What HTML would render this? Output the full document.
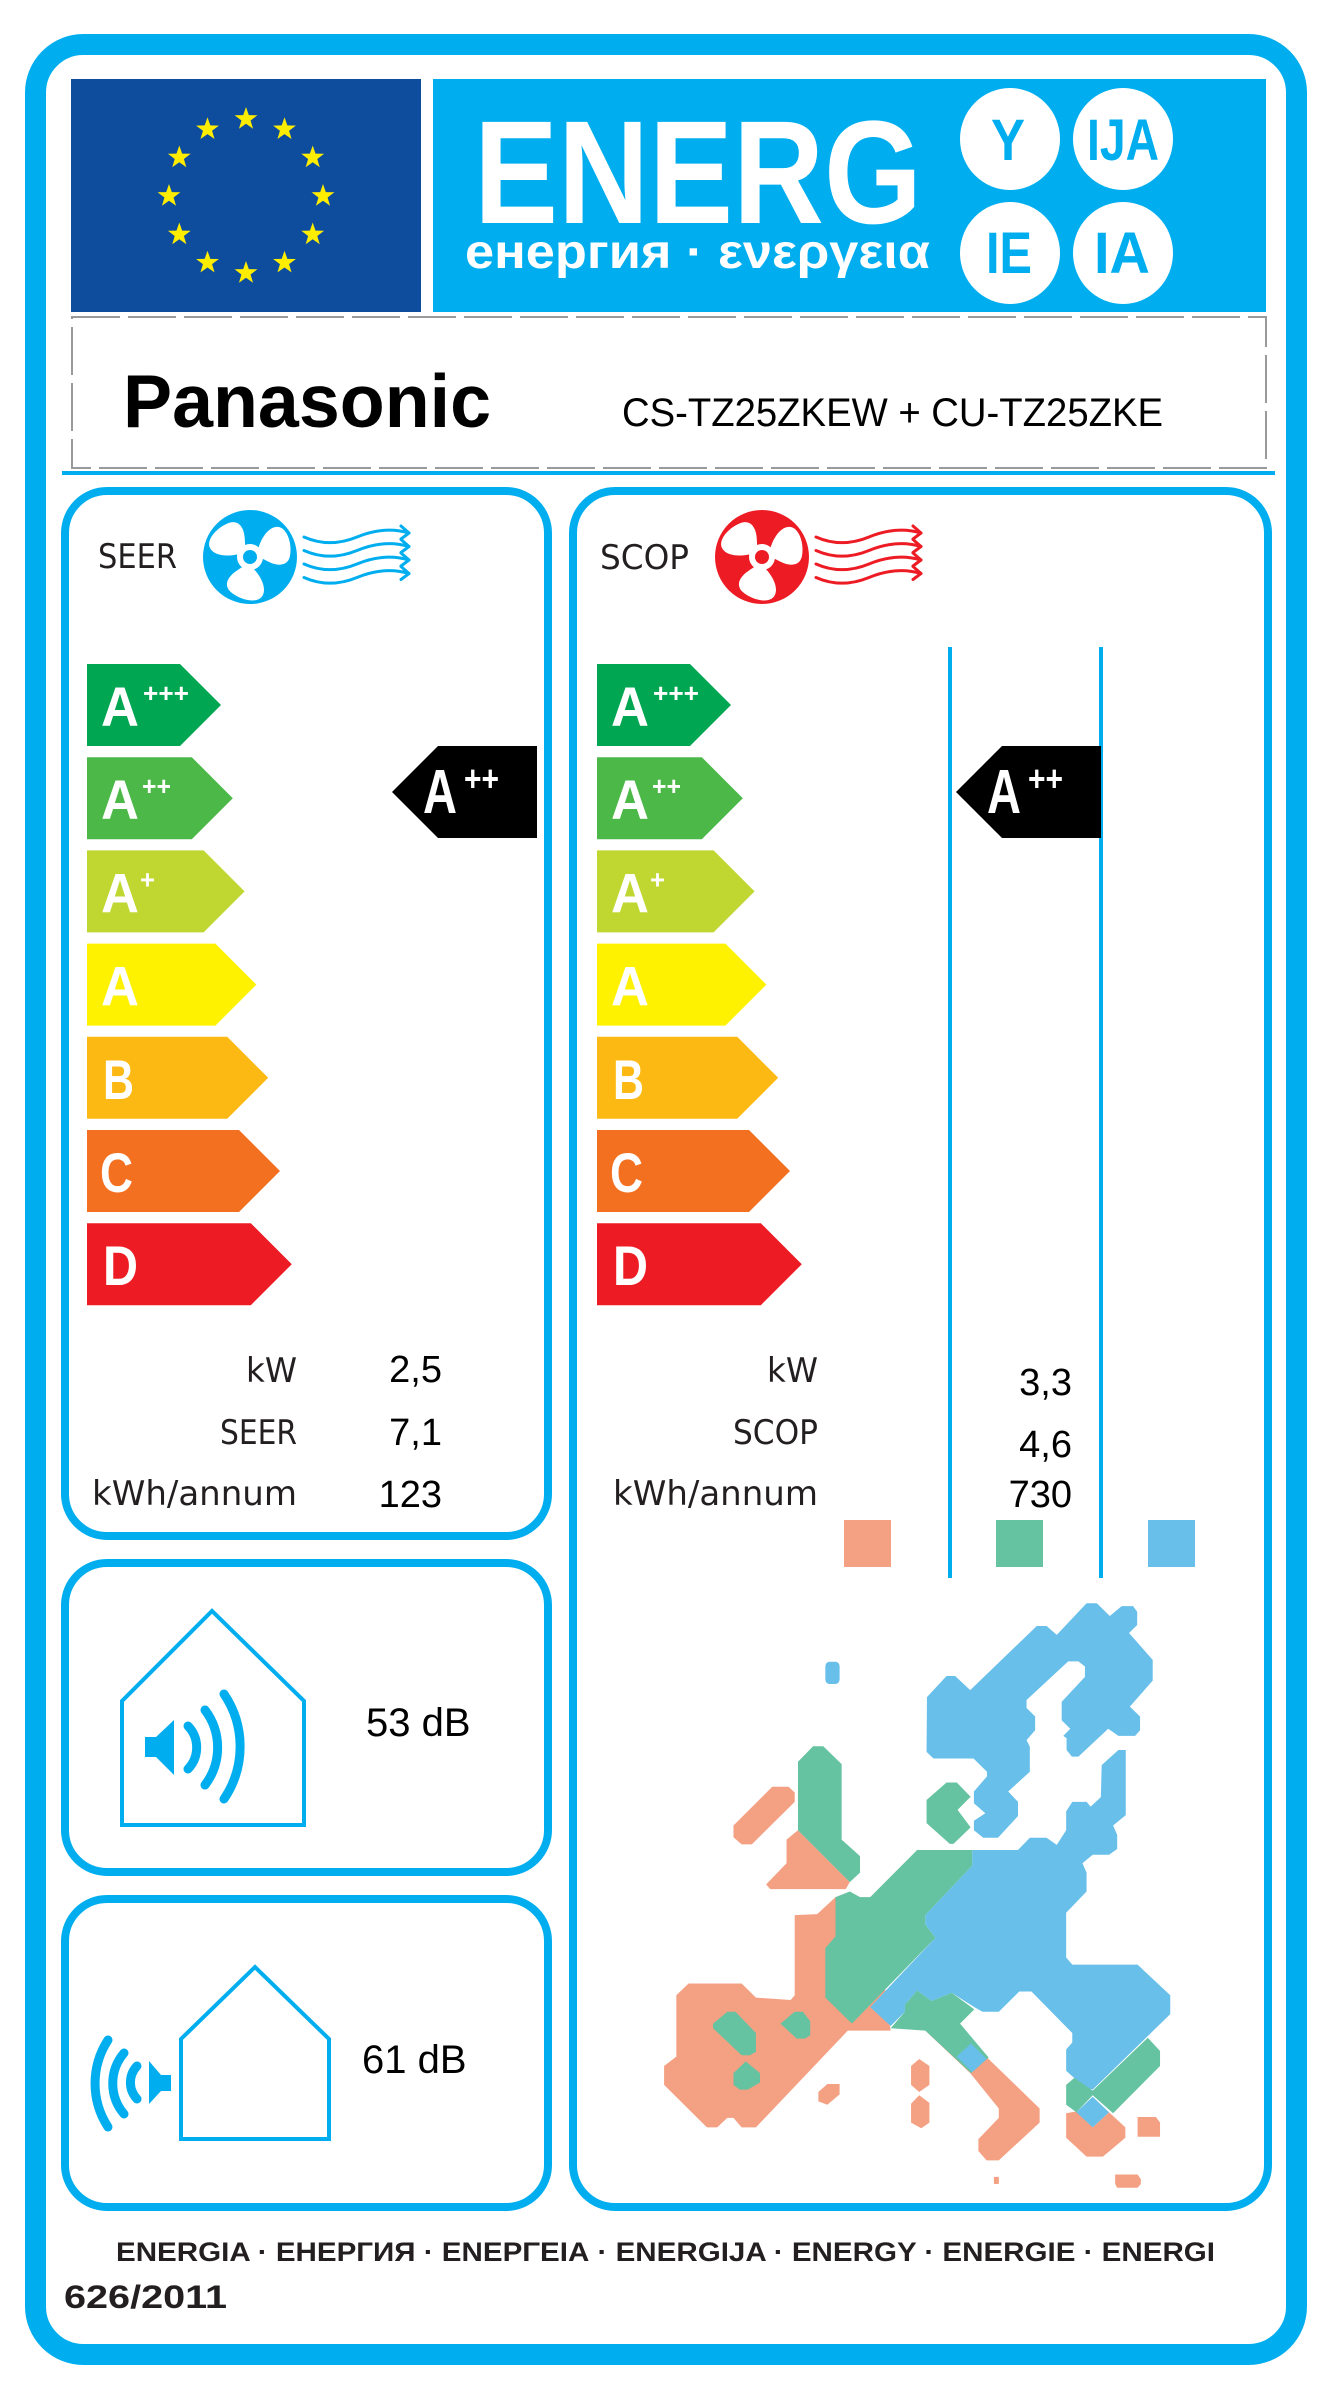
<!DOCTYPE html>
<html>
<head>
<meta charset="utf-8">
<style>
html,body{margin:0;padding:0;background:#fff;}
body{width:1344px;height:2405px;overflow:hidden;}
svg{display:block;}
text{font-family:"Liberation Sans","DejaVu Sans",sans-serif;}
.b{font-weight:bold;}
.lbl{font-family:"DejaVu Sans","Liberation Sans",sans-serif;fill:#231f20;}
</style>
</head>
<body>
<svg width="1344" height="2405" viewBox="0 0 1344 2405" xmlns="http://www.w3.org/2000/svg">
<rect x="0" y="0" width="1344" height="2405" fill="#fff"/>
<!-- outer border -->
<rect x="35.5" y="44.5" width="1261" height="2310" rx="48" ry="48" fill="none" stroke="#00aeef" stroke-width="21"/>

<!-- header -->
<rect x="71" y="79" width="350" height="233" fill="#0e4c9e"/>
<g fill="#ffed00">
<g transform="translate(246,119)"><polygon points="0,-12 2.82,-3.88 11.41,-3.71 4.57,1.48 7.05,9.71 0,4.8 -7.05,9.71 -4.57,1.48 -11.41,-3.71 -2.82,-3.88"/></g>
<g transform="translate(284.5,129.3)"><polygon points="0,-12 2.82,-3.88 11.41,-3.71 4.57,1.48 7.05,9.71 0,4.8 -7.05,9.71 -4.57,1.48 -11.41,-3.71 -2.82,-3.88"/></g>
<g transform="translate(312.7,157.5)"><polygon points="0,-12 2.82,-3.88 11.41,-3.71 4.57,1.48 7.05,9.71 0,4.8 -7.05,9.71 -4.57,1.48 -11.41,-3.71 -2.82,-3.88"/></g>
<g transform="translate(323,196)"><polygon points="0,-12 2.82,-3.88 11.41,-3.71 4.57,1.48 7.05,9.71 0,4.8 -7.05,9.71 -4.57,1.48 -11.41,-3.71 -2.82,-3.88"/></g>
<g transform="translate(312.7,234.5)"><polygon points="0,-12 2.82,-3.88 11.41,-3.71 4.57,1.48 7.05,9.71 0,4.8 -7.05,9.71 -4.57,1.48 -11.41,-3.71 -2.82,-3.88"/></g>
<g transform="translate(284.5,262.7)"><polygon points="0,-12 2.82,-3.88 11.41,-3.71 4.57,1.48 7.05,9.71 0,4.8 -7.05,9.71 -4.57,1.48 -11.41,-3.71 -2.82,-3.88"/></g>
<g transform="translate(246,273)"><polygon points="0,-12 2.82,-3.88 11.41,-3.71 4.57,1.48 7.05,9.71 0,4.8 -7.05,9.71 -4.57,1.48 -11.41,-3.71 -2.82,-3.88"/></g>
<g transform="translate(207.5,262.7)"><polygon points="0,-12 2.82,-3.88 11.41,-3.71 4.57,1.48 7.05,9.71 0,4.8 -7.05,9.71 -4.57,1.48 -11.41,-3.71 -2.82,-3.88"/></g>
<g transform="translate(179.3,234.5)"><polygon points="0,-12 2.82,-3.88 11.41,-3.71 4.57,1.48 7.05,9.71 0,4.8 -7.05,9.71 -4.57,1.48 -11.41,-3.71 -2.82,-3.88"/></g>
<g transform="translate(169,196)"><polygon points="0,-12 2.82,-3.88 11.41,-3.71 4.57,1.48 7.05,9.71 0,4.8 -7.05,9.71 -4.57,1.48 -11.41,-3.71 -2.82,-3.88"/></g>
<g transform="translate(179.3,157.5)"><polygon points="0,-12 2.82,-3.88 11.41,-3.71 4.57,1.48 7.05,9.71 0,4.8 -7.05,9.71 -4.57,1.48 -11.41,-3.71 -2.82,-3.88"/></g>
<g transform="translate(207.5,129.3)"><polygon points="0,-12 2.82,-3.88 11.41,-3.71 4.57,1.48 7.05,9.71 0,4.8 -7.05,9.71 -4.57,1.48 -11.41,-3.71 -2.82,-3.88"/></g>
</g>
<rect x="433" y="79" width="833" height="233" fill="#00aeef"/>
<text x="474" y="223" class="b" font-size="147" fill="#fff" textLength="448" lengthAdjust="spacingAndGlyphs">ENERG</text>
<text x="465" y="268" class="b" font-size="48" fill="#fff" textLength="465" lengthAdjust="spacingAndGlyphs">енергия · ενεργεια</text>
<ellipse cx="1010" cy="139" rx="50" ry="51" fill="#fff"/>
<ellipse cx="1123" cy="139" rx="50" ry="51" fill="#fff"/>
<ellipse cx="1010" cy="253" rx="50" ry="51" fill="#fff"/>
<ellipse cx="1123" cy="253" rx="50" ry="51" fill="#fff"/>
<g class="b" font-size="58" fill="#00aeef">
<text x="991" y="160" class="b" textLength="34" lengthAdjust="spacingAndGlyphs">Y</text>
<text x="1087" y="160" class="b" textLength="72" lengthAdjust="spacingAndGlyphs">IJA</text>
<text x="986" y="273" class="b" textLength="46" lengthAdjust="spacingAndGlyphs">IE</text>
<text x="1094" y="273" class="b" textLength="56" lengthAdjust="spacingAndGlyphs">IA</text>
</g>

<!-- supplier box -->
<rect x="72" y="317" width="1194" height="151" fill="none" stroke="#9a9a9a" stroke-width="2" stroke-dasharray="48 8"/>
<text x="123" y="427" class="b" font-size="75" fill="#000" textLength="368" lengthAdjust="spacingAndGlyphs">Panasonic</text>
<text x="622" y="426" font-size="40" fill="#000" textLength="541" lengthAdjust="spacingAndGlyphs">CS-TZ25ZKEW + CU-TZ25ZKE</text>
<rect x="62" y="471" width="1213" height="4" fill="#00aeef"/>

<!-- panels -->
<g fill="none" stroke="#00aeef" stroke-width="8">
<rect x="65" y="491" width="483" height="1045" rx="42" ry="42"/>
<rect x="65" y="1563" width="483" height="309" rx="42" ry="42"/>
<rect x="65" y="1899" width="483" height="308" rx="42" ry="42"/>
<rect x="573" y="491" width="695" height="1716" rx="42" ry="42"/>
</g>

<!-- SEER header -->
<text x="98" y="568" class="lbl" font-size="34" textLength="79" lengthAdjust="spacingAndGlyphs">SEER</text>
<g>
<g transform="translate(250,557)">
<circle r="47" fill="#00aeef"/>
<circle r="13" fill="#fff"/>
<path d="M -3,-9 C -12,-14 -24,-26 -20,-36 C -16,-45 2,-44 12,-38 C 20,-33 18,-24 10,-16 C 6,-12 4,-10 3,-9 Z" fill="#fff" transform="rotate(-48)"/>
<path d="M -3,-9 C -12,-14 -24,-26 -20,-36 C -16,-45 2,-44 12,-38 C 20,-33 18,-24 10,-16 C 6,-12 4,-10 3,-9 Z" fill="#fff" transform="rotate(72)"/>
<path d="M -3,-9 C -12,-14 -24,-26 -20,-36 C -16,-45 2,-44 12,-38 C 20,-33 18,-24 10,-16 C 6,-12 4,-10 3,-9 Z" fill="#fff" transform="rotate(192)"/>
<circle r="7" fill="#00aeef"/>
</g>
<g fill="none" stroke="#00aeef" stroke-width="3" stroke-linecap="round" stroke-linejoin="round">
<path d="M304,537 C322,545 340,544 357,537 S392,528 409,533"/>
<path d="M401,526 L409,533 L401,539"/>
<path d="M304,550.5 C322,558.5 340,557.5 357,550.5 S392,541.5 409,546.5"/>
<path d="M401,539.5 L409,546.5 L401,552.5"/>
<path d="M304,564 C322,572 340,571 357,564 S392,555 409,560"/>
<path d="M401,553 L409,560 L401,566"/>
<path d="M304,577.5 C322,585.5 340,584.5 357,577.5 S392,568.5 409,573.5"/>
<path d="M401,566.5 L409,573.5 L401,579.5"/>
</g>
</g>

<!-- SCOP header -->
<text x="600" y="569" class="lbl" font-size="34" textLength="89" lengthAdjust="spacingAndGlyphs">SCOP</text>
<g transform="translate(512,0)">
<g transform="translate(250,557)">
<circle r="47" fill="#ed1c24"/>
<circle r="13" fill="#fff"/>
<path d="M -3,-9 C -12,-14 -24,-26 -20,-36 C -16,-45 2,-44 12,-38 C 20,-33 18,-24 10,-16 C 6,-12 4,-10 3,-9 Z" fill="#fff" transform="rotate(-48)"/>
<path d="M -3,-9 C -12,-14 -24,-26 -20,-36 C -16,-45 2,-44 12,-38 C 20,-33 18,-24 10,-16 C 6,-12 4,-10 3,-9 Z" fill="#fff" transform="rotate(72)"/>
<path d="M -3,-9 C -12,-14 -24,-26 -20,-36 C -16,-45 2,-44 12,-38 C 20,-33 18,-24 10,-16 C 6,-12 4,-10 3,-9 Z" fill="#fff" transform="rotate(192)"/>
<circle r="7" fill="#ed1c24"/>
</g>
<g fill="none" stroke="#ed1c24" stroke-width="3" stroke-linecap="round" stroke-linejoin="round">
<path d="M304,537 C322,545 340,544 357,537 S392,528 409,533"/>
<path d="M401,526 L409,533 L401,539"/>
<path d="M304,550.5 C322,558.5 340,557.5 357,550.5 S392,541.5 409,546.5"/>
<path d="M401,539.5 L409,546.5 L401,552.5"/>
<path d="M304,564 C322,572 340,571 357,564 S392,555 409,560"/>
<path d="M401,553 L409,560 L401,566"/>
<path d="M304,577.5 C322,585.5 340,584.5 357,577.5 S392,568.5 409,573.5"/>
<path d="M401,566.5 L409,573.5 L401,579.5"/>
</g>
</g>

<!-- vertical lines right panel -->
<rect x="948" y="647" width="4" height="931" fill="#00aeef"/>
<rect x="1099" y="647" width="4" height="931" fill="#00aeef"/>

<!-- energy bars left -->
<g>
<polygon points="87,664 180,664 221,705 180,746 87,746" fill="#00a651"/>
<polygon points="87,757.2 191.8,757.2 232.8,798.2 191.8,839.2 87,839.2" fill="#4cb848"/>
<polygon points="87,850.4 203.6,850.4 244.6,891.4 203.6,932.4 87,932.4" fill="#bfd730"/>
<polygon points="87,943.6 215.4,943.6 256.4,984.6 215.4,1025.6 87,1025.6" fill="#fff200"/>
<polygon points="87,1036.8 227.2,1036.8 268.2,1077.8 227.2,1118.8 87,1118.8" fill="#fdb913"/>
<polygon points="87,1130 239,1130 280,1171 239,1212 87,1212" fill="#f37021"/>
<polygon points="87,1223.2 250.8,1223.2 291.8,1264.2 250.8,1305.2 87,1305.2" fill="#ed1c24"/>
</g>
<g fill="#fff" font-size="56" class="b">
<text x="101" y="726" class="b" textLength="38" lengthAdjust="spacingAndGlyphs">A</text>
<text x="101" y="819.2" class="b" textLength="38" lengthAdjust="spacingAndGlyphs">A</text>
<text x="101" y="912.4" class="b" textLength="38" lengthAdjust="spacingAndGlyphs">A</text>
<text x="101" y="1005.6" class="b" textLength="38" lengthAdjust="spacingAndGlyphs">A</text>
<text x="103" y="1098.8" class="b" textLength="31" lengthAdjust="spacingAndGlyphs">B</text>
<text x="100" y="1192" class="b" textLength="33" lengthAdjust="spacingAndGlyphs">C</text>
<text x="103" y="1285.2" class="b" textLength="35" lengthAdjust="spacingAndGlyphs">D</text>
</g>
<g fill="#fff" font-size="26" class="b">
<text x="143" y="702" class="b" textLength="46" lengthAdjust="spacingAndGlyphs">+++</text>
<text x="142" y="795.2" class="b" textLength="29" lengthAdjust="spacingAndGlyphs">++</text>
<text x="140" y="888.4" class="b" textLength="15" lengthAdjust="spacingAndGlyphs">+</text>
</g>

<!-- energy bars right -->
<g transform="translate(510,0)">
<polygon points="87,664 180,664 221,705 180,746 87,746" fill="#00a651"/>
<polygon points="87,757.2 191.8,757.2 232.8,798.2 191.8,839.2 87,839.2" fill="#4cb848"/>
<polygon points="87,850.4 203.6,850.4 244.6,891.4 203.6,932.4 87,932.4" fill="#bfd730"/>
<polygon points="87,943.6 215.4,943.6 256.4,984.6 215.4,1025.6 87,1025.6" fill="#fff200"/>
<polygon points="87,1036.8 227.2,1036.8 268.2,1077.8 227.2,1118.8 87,1118.8" fill="#fdb913"/>
<polygon points="87,1130 239,1130 280,1171 239,1212 87,1212" fill="#f37021"/>
<polygon points="87,1223.2 250.8,1223.2 291.8,1264.2 250.8,1305.2 87,1305.2" fill="#ed1c24"/>
<g fill="#fff" font-size="56" class="b">
<text x="101" y="726" class="b" textLength="38" lengthAdjust="spacingAndGlyphs">A</text>
<text x="101" y="819.2" class="b" textLength="38" lengthAdjust="spacingAndGlyphs">A</text>
<text x="101" y="912.4" class="b" textLength="38" lengthAdjust="spacingAndGlyphs">A</text>
<text x="101" y="1005.6" class="b" textLength="38" lengthAdjust="spacingAndGlyphs">A</text>
<text x="103" y="1098.8" class="b" textLength="31" lengthAdjust="spacingAndGlyphs">B</text>
<text x="100" y="1192" class="b" textLength="33" lengthAdjust="spacingAndGlyphs">C</text>
<text x="103" y="1285.2" class="b" textLength="35" lengthAdjust="spacingAndGlyphs">D</text>
</g>
<g fill="#fff" font-size="26" class="b">
<text x="143" y="702" class="b" textLength="46" lengthAdjust="spacingAndGlyphs">+++</text>
<text x="142" y="795.2" class="b" textLength="29" lengthAdjust="spacingAndGlyphs">++</text>
<text x="140" y="888.4" class="b" textLength="15" lengthAdjust="spacingAndGlyphs">+</text>
</g>
</g>

<!-- black arrows -->
<polygon points="392,792 438,746 537,746 537,838 438,838" fill="#000"/>
<text x="423" y="813" class="b" font-size="62" fill="#fff" textLength="34" lengthAdjust="spacingAndGlyphs">A</text>
<text x="464" y="791" class="b" font-size="36" fill="#fff" textLength="35" lengthAdjust="spacingAndGlyphs">++</text>
<polygon points="956,792 1002,746 1101,746 1101,838 1002,838" fill="#000"/>
<text x="987" y="813" class="b" font-size="62" fill="#fff" textLength="34" lengthAdjust="spacingAndGlyphs">A</text>
<text x="1028" y="791" class="b" font-size="36" fill="#fff" textLength="35" lengthAdjust="spacingAndGlyphs">++</text>

<!-- labels & values -->
<g class="lbl" font-size="34" text-anchor="end">
<text x="297" y="1382" class="lbl" text-anchor="end" textLength="51" lengthAdjust="spacingAndGlyphs">kW</text>
<text x="297" y="1444" class="lbl" text-anchor="end" textLength="77" lengthAdjust="spacingAndGlyphs">SEER</text>
<text x="297" y="1505" class="lbl" text-anchor="end" textLength="205" lengthAdjust="spacingAndGlyphs">kWh/annum</text>
<text x="818" y="1382" class="lbl" text-anchor="end" textLength="51" lengthAdjust="spacingAndGlyphs">kW</text>
<text x="818" y="1444" class="lbl" text-anchor="end" textLength="85" lengthAdjust="spacingAndGlyphs">SCOP</text>
<text x="818" y="1505" class="lbl" text-anchor="end" textLength="205" lengthAdjust="spacingAndGlyphs">kWh/annum</text>
</g>
<g font-size="38" fill="#000" text-anchor="end">
<text x="442" y="1382">2,5</text>
<text x="442" y="1445">7,1</text>
<text x="442" y="1507">123</text>
<text x="1072" y="1395">3,3</text>
<text x="1072" y="1457">4,6</text>
<text x="1072" y="1507">730</text>
</g>

<!-- climate squares -->
<rect x="844" y="1520" width="47" height="47" fill="#f4a083"/>
<rect x="996" y="1520" width="47" height="47" fill="#66c3a1"/>
<rect x="1148" y="1520" width="47" height="47" fill="#67bfea"/>

<!-- Europe map -->
<g transform="translate(660,1500) scale(0.4082,0.4717)">
<!-- salmon base -->
<polygon fill="#f4a083" points="10,1200 40,1180 40,1050 70,1025 200,1025 235,1055 320,1060 330,1050 330,880 385,878 430,842 470,842 540,960 565,1125 460,1125 235,1330 200,1330 180,1310 165,1310 140,1330 115,1330 10,1240"/>
<polygon fill="#f4a083" points="650,1125 760,1215 830,1290 830,1310 780,1355 780,1380 800,1400 830,1400 930,1320 930,1290 805,1185 735,1110"/>
<polygon fill="#f4a083" points="995,1300 1020,1296 1060,1330 1100,1298 1140,1330 1140,1352 1085,1392 1045,1392 995,1352"/>
<polygon fill="#f4a083" points="180,690 275,608 315,608 330,620 330,640 225,730 200,730 180,715"/>
<polygon fill="#f4a083" points="310,720 338,700 465,810 455,825 270,825 260,815 310,770"/>
<polygon fill="#f4a083" points="615,1200 635,1185 660,1200 660,1240 635,1255 615,1240"/>
<polygon fill="#f4a083" points="615,1280 635,1262 660,1278 660,1320 640,1332 615,1320"/>
<polygon fill="#f4a083" points="388,1255 410,1238 440,1238 440,1260 410,1282 388,1275"/>
<rect x="818" y="1435" width="12" height="15" fill="#f4a083"/>
<polygon fill="#f4a083" points="1115,1430 1170,1430 1178,1440 1178,1450 1170,1458 1120,1458 1115,1450"/>
<polygon fill="#f4a083" points="1170,1308 1215,1308 1225,1320 1225,1350 1170,1350"/>
<!-- green -->
<polygon fill="#66c3a1" points="405,950 430,925 430,842 465,830 490,842 515,842 630,742 765,742 765,775 650,880 650,900 675,928 470,1110 405,1055"/>
<polygon fill="#66c3a1" points="338,555 375,522 400,522 445,560 445,720 490,755 490,790 465,810 338,700"/>
<polygon fill="#66c3a1" points="653,636 702,599 727,599 761,629 729,657 761,694 719,729 710,729 653,685"/>
<polygon fill="#66c3a1" points="130,1110 165,1085 185,1085 235,1130 235,1170 220,1177 200,1177 130,1120"/>
<polygon fill="#66c3a1" points="295,1110 330,1085 350,1085 368,1105 368,1135 355,1142 335,1142"/>
<polygon fill="#66c3a1" points="180,1215 210,1190 245,1215 245,1235 215,1250 195,1250 180,1240"/>
<!-- blue -->
<polygon fill="#67bfea" points="765,742 877,742 906,716 947,716 972,731 995,700 995,660 1010,640 1045,640 1055,650 1080,630 1082,562 1123,530 1141,530 1141,668 1110,690 1120,710 1120,740 1100,752 1060,752 1035,770 1045,790 1045,830 995,875 995,970 1010,985 1170,985 1250,1050 1250,1090 1060,1250 1040,1245 995,1210 995,1165 1010,1150 1010,1130 910,1042 880,1042 830,1085 790,1085 770,1075 715,1045 665,1062 630,1040 600,1070 600,1085 565,1115 515,1075 675,928 650,900 650,880 765,775"/>
<polygon fill="#67bfea" points="653,534 654,418 702,373 723,373 760,403 923,267 947,267 972,286 1045,219 1070,219 1102,246 1131,225 1159,225 1169,237 1169,265 1149,282 1207,339 1207,383 1151,438 1176,459 1176,488 1164,500 1123,500 1098,485 1025,544 1009,544 996,530 996,505 988,500 1005,485 984,467 984,428 1041,375 1041,353 1025,342 1000,342 898,424 898,441 919,459 919,488 898,509 906,523 906,576 853,618 877,640 877,670 828,716 792,716 769,700 769,680 797,664 769,643 769,618 801,586 801,576 768,548 670,548"/>
<rect x="405" y="343" width="35" height="47" rx="10" ry="10" fill="#67bfea"/>
<!-- green over blue -->
<polygon fill="#66c3a1" points="565,1120 600,1085 600,1070 630,1040 665,1062 715,1045 770,1080 735,1110 805,1182 762,1215 650,1125"/>
<polygon fill="#66c3a1" points="995,1240 1015,1225 1060,1252 1195,1140 1225,1168 1225,1200 1110,1300 1060,1262 1020,1298 995,1282"/>
<polygon fill="#67bfea" points="727,1180 762,1152 800,1185 765,1213"/>
<polygon fill="#67bfea" points="1020,1298 1060,1265 1100,1298 1060,1330"/>
</g>

<!-- sound panel 1 -->
<polygon points="122,1701 212,1611 304,1701 304,1825 122,1825" fill="none" stroke="#00aeef" stroke-width="4"/>
<polygon points="145,1737 156,1737 174,1720 174,1775 156,1757 145,1757" fill="#00aeef"/>
<g fill="none" stroke="#00aeef" stroke-width="9" stroke-linecap="round">
<path d="M188,1726 A31 31 0 0 1 188,1769"/>
<path d="M205,1710 A62 62 0 0 1 205,1785"/>
<path d="M224,1694 A93.5 93.5 0 0 1 224,1799"/>
</g>
<text x="366" y="1736" font-size="40" fill="#000">53 dB</text>

<!-- sound panel 2 -->
<polygon points="181,2039 255,1967 329,2039 329,2139 181,2139" fill="none" stroke="#00aeef" stroke-width="4"/>
<polygon points="171,2075 161,2075 149,2061 149,2104 161,2091 171,2091" fill="#00aeef"/>
<g fill="none" stroke="#00aeef" stroke-width="9" stroke-linecap="round">
<path d="M137,2066 A24 24 0 0 0 137,2099"/>
<path d="M124,2053 A47 47 0 0 0 124,2114"/>
<path d="M108,2040 A79.6 79.6 0 0 0 108,2127"/>
</g>
<text x="362" y="2073" font-size="40" fill="#000">61 dB</text>

<!-- footer -->
<text x="116" y="2261" class="b" font-size="27" fill="#231f20" textLength="1099" lengthAdjust="spacingAndGlyphs">ENERGIA · ЕНЕРГИЯ · ΕΝΕΡΓΕΙΑ · ENERGIJA · ENERGY · ENERGIE · ENERGI</text>
<text x="64" y="2308" class="b" font-size="32" fill="#231f20" textLength="163" lengthAdjust="spacingAndGlyphs">626/2011</text>
</svg>
</body>
</html>
